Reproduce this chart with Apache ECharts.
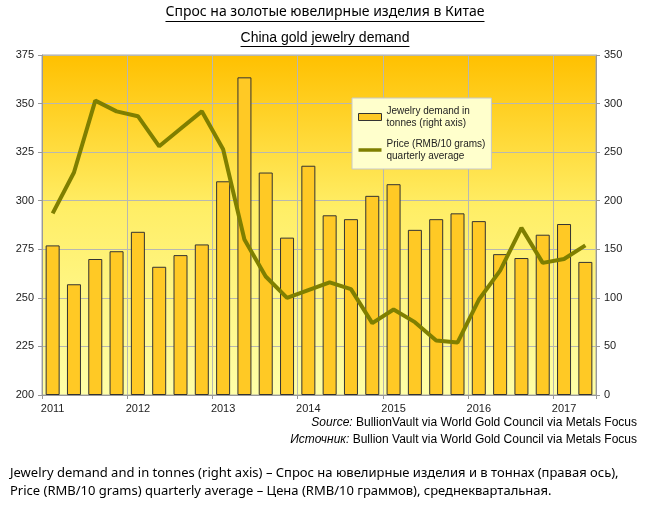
<!DOCTYPE html>
<html><head><meta charset="utf-8">
<script src="https://cdn.jsdelivr.net/npm/echarts@6/dist/echarts.min.js"></script>
<style>html,body{margin:0;padding:0;background:#fff}#c{width:650px;height:505px}</style>
</head><body><div id="c"></div>
<script>
const quarters = [
  '2011 Q1','2011 Q2','2011 Q3','2011 Q4',
  '2012 Q1','2012 Q2','2012 Q3','2012 Q4',
  '2013 Q1','2013 Q2','2013 Q3','2013 Q4',
  '2014 Q1','2014 Q2','2014 Q3','2014 Q4',
  '2015 Q1','2015 Q2','2015 Q3','2015 Q4',
  '2016 Q1','2016 Q2','2016 Q3','2016 Q4',
  '2017 Q1','2017 Q2'
];
// Jewelry demand, tonnes (right axis)
const jewelryDemand = [154, 114, 140, 148, 168, 132, 144, 155, 220, 327, 229, 162, 236, 185, 181, 205, 217, 170, 181, 187, 179, 145, 141, 165, 176, 137];
// Price, RMB/10 grams, quarterly average (left axis)
const price = [293.5, 314.5, 351.5, 346, 343.5, 328, 337, 346, 326.5, 280, 261, 250, 254, 258, 254.5, 237, 244, 237.5, 228, 227, 249, 264, 286, 268, 270, 277];
const leftAxisTicks = { min: 200, max: 375, interval: 25 };
const rightAxisTicks = { min: 0, max: 350, interval: 50 };

const titleRu = 'Спрос на золотые ювелирные изделия в Китае';
const titleEn = 'China gold jewelry demand';
const sourceEn = ['Source:', ' BullionVault via World Gold Council via Metals Focus'];
const sourceRu = ['Источник:', ' Bullion Vault via World Gold Council via Metals Focus'];
const captionLines = [
  'Jewelry demand and in tonnes (right axis) – Спрос на ювелирные изделия и в тоннах (правая ось),',
  'Price (RMB/10 grams) quarterly average – Цена (RMB/10 граммов), среднеквартальная.'
];
const seriesNames = ['Jewelry demand in\ntonnes (right axis)', 'Price (RMB/10 grams)\nquarterly average'];

const FONT = 'Liberation Sans, Arial, sans-serif';
const cv = document.createElement('canvas').getContext('2d');
function tw(t, f) { cv.font = f; return cv.measureText(t).width; }
const title1Font = '14px Noto Sans';
const title2Font = '14px Liberation Sans';
const w1 = tw(titleRu, title1Font), w2 = tw(titleEn, title2Font);

const chart = echarts.init(document.getElementById('c'), null, { renderer: 'canvas' });
chart.setOption({
  backgroundColor: '#ffffff',
  animation: false,
  grid: {
    left: 42, right: 54, top: 55, bottom: 110,
    show: true,
    borderColor: '#a8a8a8', borderWidth: 1,
    backgroundColor: {
      type: 'linear', x: 0, y: 0, x2: 0, y2: 1,
      colorStops: [
        { offset: 0, color: '#FFC000' },
        { offset: 0.45, color: '#FFEE66' },
        { offset: 1, color: '#FFFFA8' }
      ]
    }
  },
  legend: {
    orient: 'vertical',
    left: 352, top: 98,
    backgroundColor: '#FFFFCC',
    borderColor: '#c8c8c8', borderWidth: 1,
    padding: [7, 6, 7, 6],
    itemGap: 9,
    itemWidth: 23, itemHeight: 7,
    textStyle: { fontFamily: FONT, fontSize: 10, color: '#222', lineHeight: 12 },
    data: [
      { name: seriesNames[0], icon: 'rect', itemStyle: { borderWidth: 1, borderColor: '#333', color: '#FFC925' } },
      { name: seriesNames[1], icon: 'path://M0,0H23V3.5H0Z', itemStyle: { color: '#7f7f00', borderWidth: 0 } }
    ]
  },
  xAxis: {
    type: 'category',
    data: quarters,
    boundaryGap: true,
    axisLine: { lineStyle: { color: '#999' } },
    axisTick: { show: true, interval: 3, alignWithLabel: false, length: 4, lineStyle: { color: '#999' } },
    axisLabel: {
      interval: 3, formatter: v => v.slice(0, 4),
      fontFamily: FONT, fontSize: 11, color: '#222', margin: 8
    },
    splitLine: { show: true, interval: 3, lineStyle: { color: '#b8b8b0', width: 1 } }
  },
  yAxis: [
    {
      type: 'value', position: 'left',
      min: leftAxisTicks.min, max: leftAxisTicks.max, interval: leftAxisTicks.interval,
      axisLine: { show: true, lineStyle: { color: '#999' } },
      axisTick: { show: true, length: 4, lineStyle: { color: '#999' } },
      axisLabel: { fontFamily: FONT, fontSize: 11, color: '#222', margin: 8 },
      splitLine: { show: true, lineStyle: { color: '#b8b8b0', width: 1 } }
    },
    {
      type: 'value', position: 'right',
      min: rightAxisTicks.min, max: rightAxisTicks.max, interval: rightAxisTicks.interval,
      axisLine: { show: true, lineStyle: { color: '#999' } },
      axisTick: { show: true, length: 4, lineStyle: { color: '#999' } },
      axisLabel: { fontFamily: FONT, fontSize: 11, color: '#222', margin: 8 },
      splitLine: { show: false }
    }
  ],
  series: [
    {
      name: seriesNames[0], type: 'bar', yAxisIndex: 1,
      data: jewelryDemand, barWidth: 14,
      itemStyle: { color: '#FFC925', borderColor: '#333', borderWidth: 1 },
      z: 2
    },
    {
      name: seriesNames[1], type: 'line', yAxisIndex: 0,
      data: price, symbol: 'none', smooth: false,
      lineStyle: { color: '#7f7f00', width: 4 },
      itemStyle: { color: '#7f7f00' },
      z: 3
    }
  ],
  graphic: [
    { type: 'text', left: 'center', top: 5, style: { text: titleRu, font: title1Font, fill: '#000' } },
    { type: 'line', shape: { x1: 325 - w1 / 2, y1: 21.5, x2: 325 + w1 / 2, y2: 21.5 }, style: { stroke: '#000', lineWidth: 1 } },
    { type: 'text', left: 'center', top: 31, style: { text: titleEn, font: title2Font, fill: '#000' } },
    { type: 'line', shape: { x1: 325 - w2 / 2, y1: 46.5, x2: 325 + w2 / 2, y2: 46.5 }, style: { stroke: '#000', lineWidth: 1 } },
    { type: 'text', right: 13, top: 417, style: {
        text: '{i|' + sourceEn[0] + '}{n|' + sourceEn[1] + '}',
        rich: { i: { fontFamily: FONT, fontSize: 12, fontStyle: 'italic', fill: '#000' }, n: { fontFamily: FONT, fontSize: 12, fill: '#000' } } } },
    { type: 'text', right: 13, top: 434, style: {
        text: '{i|' + sourceRu[0] + '}{n|' + sourceRu[1] + '}',
        rich: { i: { fontFamily: FONT, fontSize: 12, fontStyle: 'italic', fill: '#000' }, n: { fontFamily: FONT, fontSize: 12, fill: '#000' } } } },
    { type: 'text', left: 10, top: 467, style: { text: captionLines[0], font: '13px Noto Sans', fill: '#000' } },
    { type: 'text', left: 10, top: 485, style: { text: captionLines[1], font: '13px Noto Sans', fill: '#000' } }
  ]
});
</script>
</body></html>
